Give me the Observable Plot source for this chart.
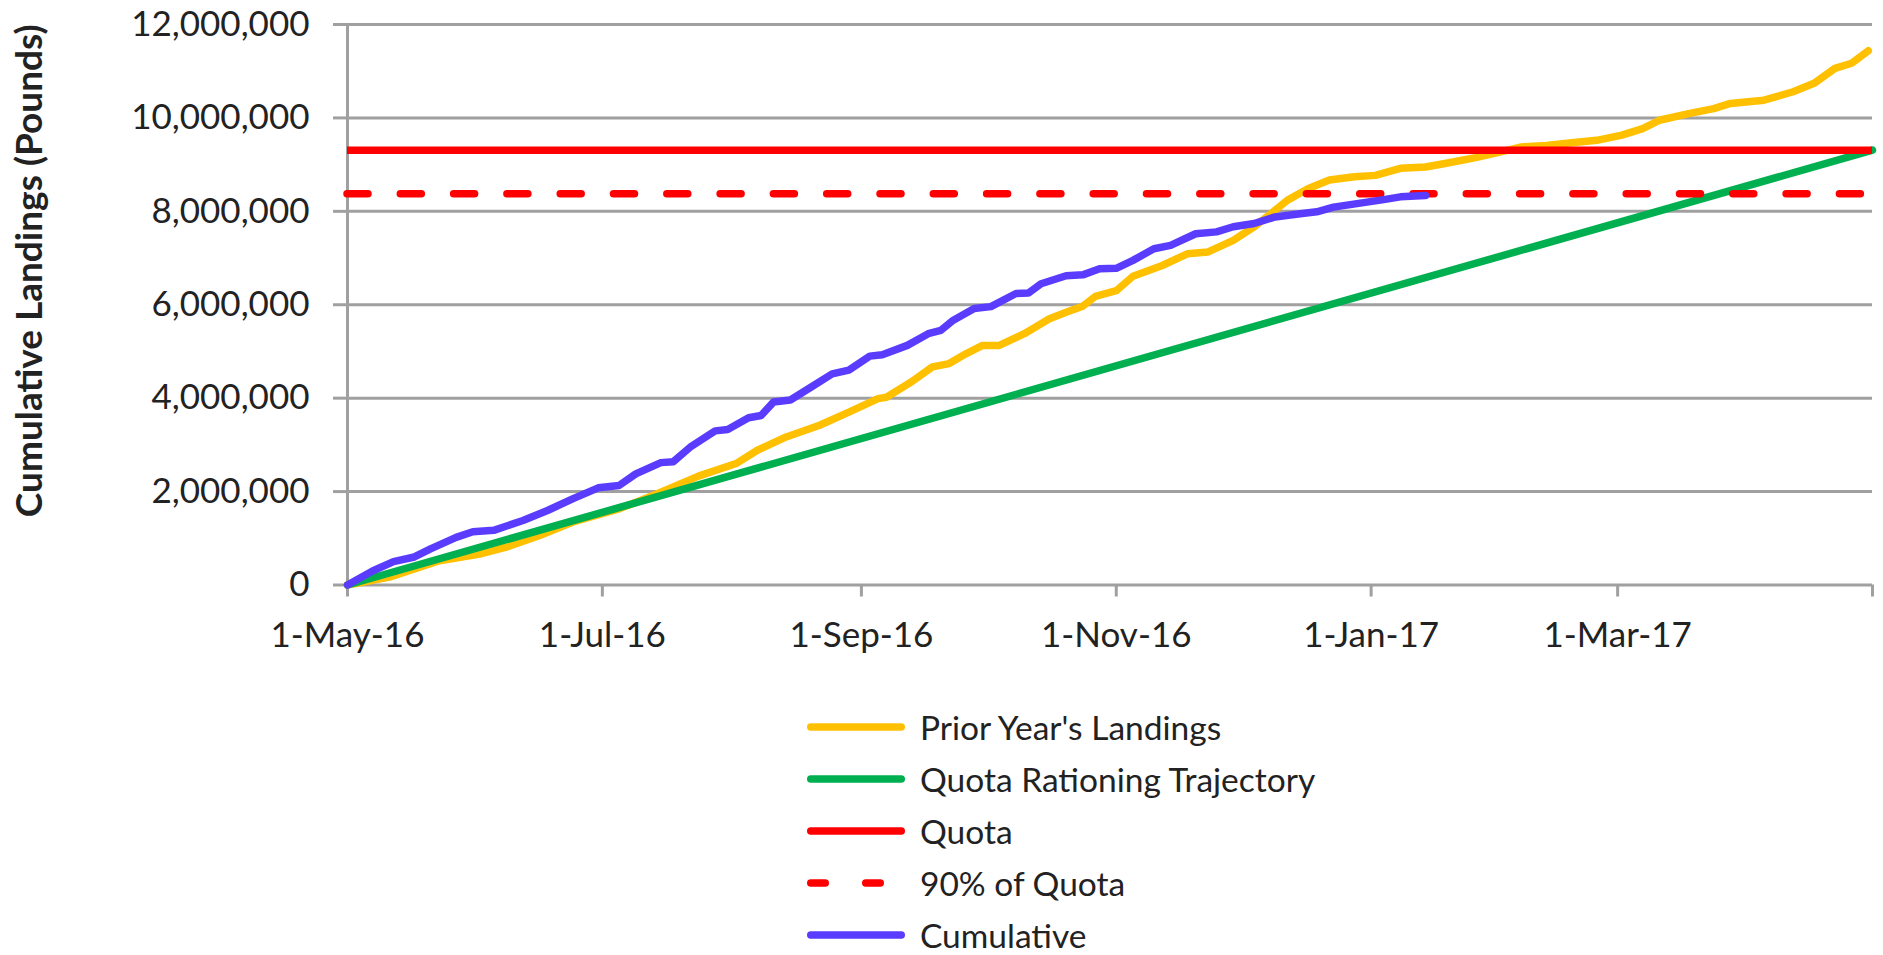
<!DOCTYPE html>
<html>
<head>
<meta charset="utf-8">
<script src="https://cdn.jsdelivr.net/npm/d3@7"></script>
<script src="https://cdn.jsdelivr.net/npm/@observablehq/plot@0.6"></script>
<style>
  html, body { margin: 0; padding: 0; background: #fff; }
  body { width: 1883px; height: 955px; overflow: hidden; font-family: Lato, sans-serif; }
  #chart svg { display: block; }
  #legend { margin-top: 31px; padding-left: 807px; }
  .row { display: flex; align-items: center; height: 52px; }
  .row svg { display: block; flex: none; }
  .row span { display: block; margin-left: 15px; font-size: 33.5px; line-height: 28px; height: 28px; color: #222; white-space: nowrap; }
</style>
</head>
<body>
<div id="chart"></div>
<div id="legend"></div>
<script>
// ---------- data ----------
const seasonStart = "2016-05-01";
const seasonEnd = "2017-05-01";
const quota = 9310000;
const quota90 = quota * 0.9;

const priorDates = ["2016-05-01","2016-05-11","2016-05-23","2016-06-02","2016-06-08","2016-06-16","2016-06-24","2016-07-05","2016-07-14","2016-07-24","2016-08-02","2016-08-07","2016-08-14","2016-08-22","2016-08-29","2016-09-05","2016-09-07","2016-09-13","2016-09-18","2016-09-22","2016-09-26","2016-09-30","2016-10-04","2016-10-10","2016-10-16","2016-10-20","2016-10-24","2016-10-27","2016-11-01","2016-11-05","2016-11-12","2016-11-18","2016-11-23","2016-11-29","2016-12-04","2016-12-08","2016-12-12","2016-12-17","2016-12-22","2016-12-28","2017-01-02","2017-01-08","2017-01-14","2017-01-19","2017-01-26","2017-01-31","2017-02-06","2017-02-12","2017-02-18","2017-02-24","2017-03-02","2017-03-07","2017-03-11","2017-03-18","2017-03-24","2017-03-28","2017-04-05","2017-04-12","2017-04-17","2017-04-22","2017-04-26","2017-04-30"];
const priorValues = [0,170000,520000,670000,810000,1060000,1350000,1630000,1950000,2330000,2600000,2880000,3170000,3420000,3700000,3990000,4020000,4350000,4670000,4740000,4950000,5130000,5130000,5380000,5700000,5840000,5970000,6180000,6300000,6610000,6840000,7090000,7130000,7380000,7670000,7950000,8240000,8490000,8670000,8740000,8770000,8920000,8950000,9030000,9150000,9250000,9380000,9410000,9470000,9520000,9630000,9770000,9950000,10090000,10200000,10310000,10380000,10560000,10740000,11060000,11170000,11440000];

const cumulativeDates = ["2016-05-01","2016-05-07","2016-05-12","2016-05-17","2016-05-21","2016-05-27","2016-05-31","2016-06-05","2016-06-12","2016-06-18","2016-06-24","2016-06-30","2016-07-05","2016-07-09","2016-07-15","2016-07-18","2016-07-22","2016-07-28","2016-07-31","2016-08-05","2016-08-08","2016-08-11","2016-08-15","2016-08-20","2016-08-25","2016-08-29","2016-09-03","2016-09-06","2016-09-12","2016-09-17","2016-09-20","2016-09-23","2016-09-28","2016-10-02","2016-10-08","2016-10-11","2016-10-14","2016-10-20","2016-10-24","2016-10-28","2016-11-01","2016-11-05","2016-11-10","2016-11-14","2016-11-20","2016-11-25","2016-11-29","2016-12-04","2016-12-09","2016-12-15","2016-12-19","2016-12-23","2016-12-29","2017-01-04","2017-01-08","2017-01-14"];
const cumulativeValues = [0,300000,500000,600000,780000,1020000,1140000,1170000,1380000,1600000,1850000,2080000,2130000,2380000,2620000,2640000,2950000,3300000,3330000,3580000,3630000,3920000,3960000,4240000,4520000,4600000,4900000,4930000,5130000,5380000,5450000,5670000,5920000,5960000,6240000,6250000,6450000,6620000,6640000,6770000,6780000,6950000,7200000,7270000,7520000,7560000,7670000,7740000,7880000,7950000,7990000,8090000,8170000,8250000,8310000,8340000];

const trajectoryDates = [seasonStart, seasonEnd];
const trajectoryValues = [0, quota];

const yTicks = [0, 2000000, 4000000, 6000000, 8000000, 10000000, 12000000];
const xTicks = ["2016-05-01","2016-07-01","2016-09-01","2016-11-01","2017-01-01","2017-03-01","2017-05-01"];
const xTickLabels = ["1-May-16","1-Jul-16","1-Sep-16","1-Nov-16","1-Jan-17","1-Mar-17",""];
const yTitle = "Cumulative Landings (Pounds)";

const legendLabels = ["Prior Year's Landings","Quota Rationing Trajectory","Quota","90% of Quota","Cumulative"];
const legendColors = ["#ffc000","#00b050","#ff0000","#ff0000","#5a3cff"];
const legendDashed = [false,false,false,true,false];

// ---------- build ----------
const parseDate = d3.utcParse("%Y-%m-%d");
const toRows = (dates, values) => dates.map((d, i) => ({date: parseDate(d), value: values[i]}));
const priorYear = toRows(priorDates, priorValues);
const cumulative = toRows(cumulativeDates, cumulativeValues);
const trajectory = toRows(trajectoryDates, trajectoryValues);
const start = parseDate(seasonStart), end = parseDate(seasonEnd);
const labelByTime = new Map(xTicks.map((d, i) => [+parseDate(d), xTickLabels[i]]));

const gridColor = "#a0a0a0";
const textColor = "#222";
const lw = 7.5;

const chart = Plot.plot({
  width: 1883,
  height: 670,
  marginLeft: 347,
  marginRight: 11,
  marginTop: 24,
  marginBottom: 85.5,
  style: {fontFamily: "Lato, sans-serif", fontSize: "35px", color: textColor, background: "#fff", overflow: "visible"},
  x: {type: "utc", domain: [start, end]},
  y: {domain: [0, 12000000]},
  marks: [
    Plot.ruleY(yTicks, {stroke: gridColor, strokeWidth: 3}),
    Plot.ruleX([start], {stroke: gridColor, strokeWidth: 3}),
    Plot.axisY(yTicks, {tickSize: 14, tickPadding: 24, tickFormat: d3.format(","), stroke: gridColor, strokeWidth: 3, fill: textColor, label: null}),
    Plot.axisX(xTicks.map(parseDate), {tickSize: 12, tickPadding: 25, tickFormat: d => labelByTime.get(+d), stroke: gridColor, strokeWidth: 3, fill: textColor, label: null}),
    Plot.text([yTitle], {frameAnchor: "left", rotate: -90, textAnchor: "middle", dx: -317, dy: -34, fontWeight: "bold", fontSize: 37, fill: textColor}),
    Plot.line(priorYear, {x: "date", y: "value", stroke: legendColors[0], strokeWidth: lw}),
    Plot.line(trajectory, {x: "date", y: "value", stroke: legendColors[1], strokeWidth: lw}),
    Plot.ruleY([quota], {stroke: legendColors[2], strokeWidth: lw}),
    Plot.ruleY([quota90], {stroke: legendColors[3], strokeWidth: lw, strokeDasharray: "21,32.3", strokeLinecap: "round"}),
    Plot.line(cumulative, {x: "date", y: "value", stroke: legendColors[4], strokeWidth: lw})
  ]
});
document.getElementById("chart").appendChild(chart);

// ---------- legend ----------
const legend = document.getElementById("legend");
legendLabels.forEach((label, i) => {
  const row = document.createElement("div");
  row.className = "row";
  const dash = legendDashed[i] ? ' stroke-dasharray="14.5,40.5"' : '';
  row.innerHTML = `<svg width="98" height="20"><line x1="3.75" y1="10" x2="94.25" y2="10" stroke="${legendColors[i]}" stroke-width="${lw}" stroke-linecap="round"${dash}/></svg><span>${label}</span>`;
  legend.appendChild(row);
});
</script>
</body>
</html>
